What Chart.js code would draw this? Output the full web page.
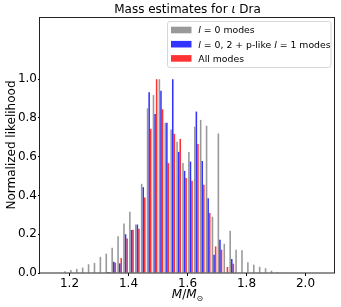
<!DOCTYPE html>
<html><head><meta charset="utf-8">
<script src="https://cdn.jsdelivr.net/npm/chart.js@4/dist/chart.umd.min.js"></script>
<style>html,body{margin:0;padding:0;background:#fff;}#wrap{width:341px;height:307px;}</style>
</head><body><div id="wrap"><canvas id="c" width="341" height="307"></canvas></div>
<script>
// Bin centres (M/Msun), bin width 0.02
const binCenters = [1.19,1.21,1.23,1.25,1.27,1.29,1.31,1.33,1.35,1.37,1.39,1.41,1.43,1.45,1.47,1.49,1.51,1.53,1.55,1.57,1.59,1.61,1.63,1.65,1.67,1.69,1.71,1.73,1.75,1.77,1.79,1.81,1.83,1.85,1.87,1.89,1.91,1.93];
const grayVals = [0.009,0.015,0.021,0.028,0.045,0.052,0.083,0.10,0.13,0.19,0.256,0.316,0.25,0.46,0.85,0.918,1.0,0.775,0.74,0.677,0.568,0.624,0.755,0.79,0.76,0.29,0.72,0.151,0.218,0.12,0.117,0.055,0.043,0.032,0.025,0.012,0.005,0.002];
const blueVals = [0,0,0,0,0,0,0,0.005,0.058,0.05,0.20,0.222,0.25,0.443,0.933,0.82,0.94,0.775,1.0,0.625,0.527,0.575,0.833,0.578,0.386,0.094,0.171,0,0.072,0,0,0,0,0,0,0,0,0];
const redVals  = [0,0,0,0,0,0,0,0.005,0.053,0.077,0.178,0.223,0.228,0.39,0.744,1.0,0.845,0.567,0.718,0.692,0.49,0.476,0.666,0.455,0.31,0.137,0.12,0.031,0.048,0,0,0,0,0,0,0,0,0];
const xTicks = [1.2,1.4,1.6,1.8,2.0];
const yTicks = [0.0,0.2,0.4,0.6,0.8,1.0];
const seriesNames = ['l = 0 modes','l = 0, 2 + p-like l = 1 modes','All modes'];
const seriesColors = ['rgba(128,128,128,0.8)','rgba(0,0,255,0.8)','rgba(255,0,0,0.8)'];
const legendParts = [
  [['l','i'],[' = 0 modes','n']],
  [['l','i'],[' = 0, 2 + p-like ','n'],['l','i'],[' = 1 modes','n']],
  [['All modes','n']]
];
const FONT = '"DejaVu Sans"';

function segWidth(ctx, parts, size){
  let w=0; for(const [t,s] of parts){ctx.font=(s==='i'?'italic ':'')+size+'px '+FONT; w+=ctx.measureText(t).width;} return w;
}
function drawParts(ctx, parts, x, y, size){
  for(const [t,s] of parts){ctx.font=(s==='i'?'italic ':'')+size+'px '+FONT; ctx.fillText(t,x,y); x+=ctx.measureText(t).width;}
  return x;
}

const decor = {
  id:'decor',
  afterDraw(chart){
    const ctx=chart.ctx, ca=chart.chartArea;
    ctx.save();
    // frame
    ctx.strokeStyle='#222'; ctx.lineWidth=1;
    ctx.strokeRect(Math.round(ca.left)-0.5, Math.round(ca.top)+0.5, Math.round(ca.right-ca.left), Math.round(ca.bottom-ca.top)-0.5);
    ctx.fillStyle='#000'; ctx.textBaseline='alphabetic'; ctx.textAlign='left';
    // title
    const tParts=[['Mass estimates for ','n'],['ι','i'],[' Dra','n']];
    const tw=segWidth(ctx,tParts,12);
    drawParts(ctx,tParts,(ca.left+ca.right)/2-tw/2,13,12);
    // x label
    ctx.font='italic 12px '+FONT;
    const m=ctx.measureText('M').width; ctx.font='12px '+FONT; const sl=ctx.measureText('/').width;
    ctx.font='8px '+FONT; const od=ctx.measureText('⊙').width;
    const xw=m*2+sl+od; let xx=(ca.left+ca.right)/2-xw/2; const xb=298;
    ctx.font='italic 12px '+FONT; ctx.fillText('M',xx,xb); xx+=m;
    ctx.font='12px '+FONT; ctx.fillText('/',xx,xb); xx+=sl;
    ctx.font='italic 12px '+FONT; ctx.fillText('M',xx,xb); xx+=m;
    ctx.font='8px '+FONT; ctx.fillText('⊙',xx,xb+2.5);
    // y label
    ctx.save(); ctx.translate(14.5,(ca.top+ca.bottom)/2); ctx.rotate(-Math.PI/2);
    ctx.font='12px '+FONT; ctx.textAlign='center'; ctx.fillText('Normalized likelihood',0,0); ctx.restore();
    // legend
    const lx=167.5, ly=21.5, lw=163.5, lh=46;
    ctx.beginPath(); ctx.roundRect(lx,ly,lw,lh,2.5);
    ctx.fillStyle='rgba(255,255,255,0.8)'; ctx.fill(); ctx.strokeStyle='#d6d6d6'; ctx.stroke();
    const rows=[30,44.2,58.4];
    for(let i=0;i<3;i++){
      ctx.fillStyle=seriesColors[i]; ctx.fillRect(171,rows[i]-3.3,20.5,6.6);
      ctx.fillStyle='#000'; drawParts(ctx,legendParts[i],198.3,rows[i]+3.4,9.3);
    }
    ctx.restore();
  }
};

const ds = [grayVals,blueVals,redVals].map((vals,k)=>({
  label: seriesNames[k],
  data: binCenters.map((x,i)=>({x:x,y:vals[i]})),
  backgroundColor: seriesColors[k], borderWidth:0
}));

new Chart(document.getElementById('c'),{
  type:'bar',
  data:{datasets:ds},
  options:{
    responsive:false, animation:false, devicePixelRatio:1,
    layout:{padding:{left:0,right:6,top:17,bottom:0}},
    datasets:{bar:{categoryPercentage:0.8,barPercentage:1.0,grouped:true}},
    plugins:{legend:{display:false},title:{display:false},tooltip:{enabled:false}},
    scales:{
      x:{type:'linear',min:1.1,max:2.1,offset:false,
        afterBuildTicks:s=>{s.ticks=xTicks.map(v=>({value:v}));},
        afterFit:s=>{s.height=34;},
        grid:{offset:false,display:true,drawOnChartArea:false,drawTicks:true,tickLength:3,color:'#000'},
        border:{display:false},
        ticks:{font:{family:'DejaVu Sans',size:12},color:'#000',padding:1,maxRotation:0,autoSkip:false,callback:v=>Number(v).toFixed(1)}},
      y:{type:'linear',min:0,max:1.321,
        afterBuildTicks:s=>{s.ticks=yTicks.map(v=>({value:v}));},
        afterFit:s=>{s.width=40;},
        grid:{display:true,drawOnChartArea:false,drawTicks:true,tickLength:2,color:'#000'},
        border:{display:false},
        ticks:{font:{family:'DejaVu Sans',size:12},color:'#000',padding:1,autoSkip:false,callback:v=>Number(v).toFixed(1)}}
    }
  },
  plugins:[decor]
});
</script></body></html>
